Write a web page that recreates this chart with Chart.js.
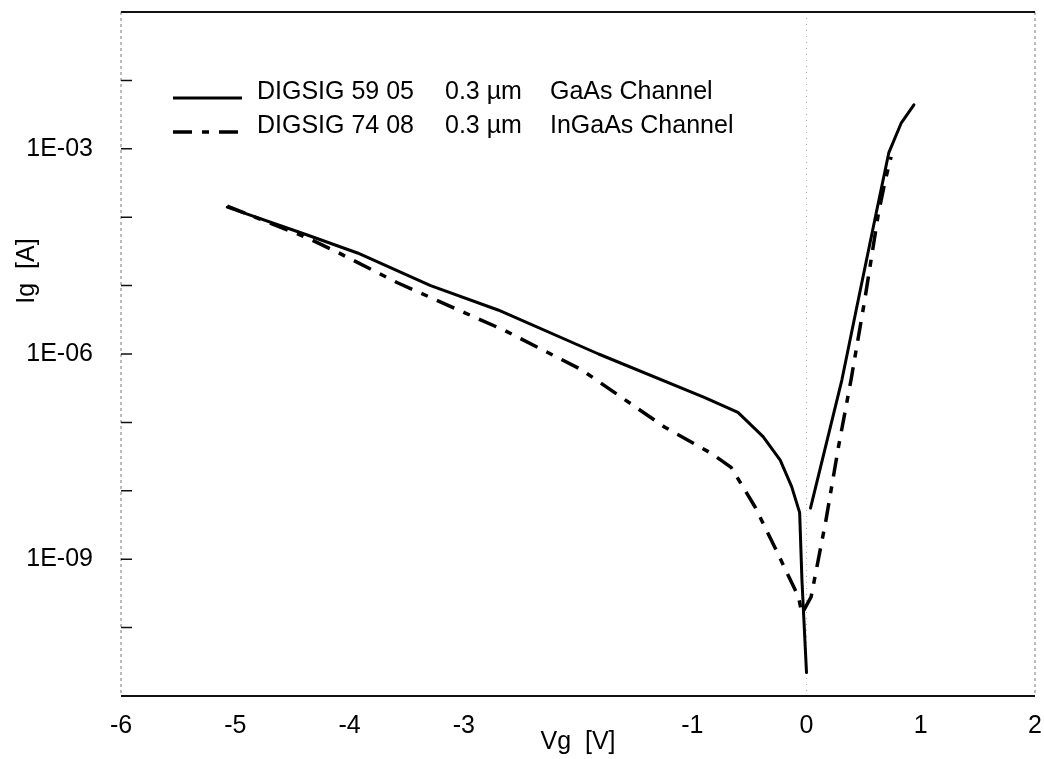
<!DOCTYPE html>
<html>
<head>
<meta charset="utf-8">
<title>Ig vs Vg</title>
<script src="https://cdn.jsdelivr.net/npm/chart.js@4.4.0/dist/chart.umd.min.js"></script>
<style>
  html, body { margin: 0; padding: 0; background: #fff; }
</style>
</head>
<body>
<canvas id="myChart" width="1044" height="759"></canvas>
<script>
// gate current vs gate voltage
const gaasVg = [-5.07, -4.37, -3.93, -3.29, -2.70, -1.82, -0.89, -0.60, -0.38, -0.23, -0.13, -0.06, -0.04, 0.0,
                0.02, 0.035, 0.31, 0.43, 0.61, 0.72, 0.83, 0.94];
const gaasIg = [1.4e-4, 5.5e-5, 3.0e-5, 1.0e-5, 4.4e-6, 1.0e-6, 2.3e-7, 1.4e-7, 6.2e-8, 2.8e-8, 1.15e-8, 4.8e-9, 5.0e-10, 2.2e-11,
                null, 5.6e-9, 4.2e-7, 4.0e-6, 1.15e-4, 8.7e-4, 2.4e-3, 4.4e-3];

const ingaasVg = [-5.07, -4.37, -4.11, -3.58, -2.99, -2.64, -1.97, -1.24, -0.83, -0.66, -0.45, -0.25, -0.07, -0.04,
                  0.04, 0.17, 0.28, 0.39, 0.51, 0.63, 0.69, 0.74];
const ingaasIg = [1.45e-4, 5.0e-5, 3.1e-5, 1.1e-5, 4.0e-6, 2.2e-6, 5.9e-7, 8.5e-8, 3.5e-8, 2.2e-8, 5.8e-9, 1.2e-9, 2.8e-10, 1.6e-10,
                  2.8e-10, 3.7e-9, 4.4e-8, 4.2e-7, 6.2e-6, 1.15e-4, 3.5e-4, 7.6e-4];

const xTickLabels = ['-6', '-5', '-4', '-3', '', '-1', '0', '1', '2'];
const yTickValues = [1e-10, 1e-9, 1e-8, 1e-7, 1e-6, 1e-5, 1e-4, 1e-3, 1e-2];
const yTickLabels = ['', '1E-09', '', '', '1E-06', '', '', '1E-03', ''];

const seriesNames = ['DIGSIG 59 05', 'DIGSIG 74 08'];
const gateLengths = ['0.3 µm', '0.3 µm'];
const channels = ['GaAs Channel', 'InGaAs Channel'];

const FONT = "'Liberation Sans', Arial, Helvetica, sans-serif";
Chart.defaults.font.family = FONT;
Chart.defaults.font.size = 25;
Chart.defaults.color = '#000';

function toPoints(xs, ys) {
  return xs.map((v, i) => ({ x: v, y: ys[i] }));
}

// frame, zero line and inward ticks on the log axis
const framePlugin = {
  id: 'frame',
  beforeDatasetsDraw(chart) {
    const { ctx, chartArea: a, scales: { x, y } } = chart;
    ctx.save();
    ctx.strokeStyle = '#777';
    ctx.lineWidth = 1;
    ctx.setLineDash([3, 3]);
    ctx.beginPath();
    ctx.moveTo(a.left, a.top); ctx.lineTo(a.left, a.bottom);
    ctx.moveTo(a.right, a.top); ctx.lineTo(a.right, a.bottom);
    ctx.stroke();

    ctx.strokeStyle = '#aaa';
    ctx.setLineDash([1, 5]);
    const x0 = x.getPixelForValue(0);
    ctx.beginPath();
    ctx.moveTo(x0, a.top); ctx.lineTo(x0, a.bottom);
    ctx.stroke();

    ctx.setLineDash([]);
    ctx.strokeStyle = '#111';
    ctx.lineWidth = 2;
    ctx.beginPath();
    ctx.moveTo(a.left, a.top); ctx.lineTo(a.right, a.top);
    ctx.moveTo(a.left, a.bottom); ctx.lineTo(a.right, a.bottom);
    ctx.stroke();

    ctx.lineWidth = 1.5;
    ctx.beginPath();
    yTickValues.forEach(v => {
      const py = y.getPixelForValue(v);
      ctx.moveTo(a.left, py); ctx.lineTo(a.left + 11, py);
    });
    ctx.stroke();
    ctx.restore();
  },
  afterDraw(chart) {
    const { ctx, chartArea: a } = chart;
    ctx.save();
    ctx.fillStyle = '#000';
    ctx.font = '25px ' + FONT;
    ctx.textBaseline = 'middle';
    chart.data.datasets.forEach((ds, i) => {
      const rowY = a.top + 80 + i * 34;
      ctx.strokeStyle = ds.borderColor;
      ctx.lineWidth = ds.borderWidth;
      ctx.setLineDash(ds.borderDash || []);
      ctx.beginPath();
      ctx.moveTo(a.left + 52, rowY + 6);
      ctx.lineTo(a.left + 121, rowY + 6);
      ctx.stroke();
      ctx.fillText(seriesNames[i], a.left + 136, rowY);
      ctx.fillText(gateLengths[i], a.left + 324, rowY);
      ctx.fillText(channels[i], a.left + 429, rowY);
    });

    // y axis title
    ctx.translate(27, 271);
    ctx.rotate(-Math.PI / 2);
    ctx.textAlign = 'center';
    ctx.fillText('Ig  [A]', 0, 0);
    ctx.restore();
  }
};

new Chart('myChart', {
  type: 'line',
  data: {
    datasets: [
      {
        label: seriesNames[0] + '   ' + gateLengths[0] + '   ' + channels[0],
        data: toPoints(gaasVg, gaasIg),
        borderColor: '#000',
        borderWidth: 3,
        pointRadius: 0,
        tension: 0,
        spanGaps: false,
        borderJoinStyle: 'round',
        borderCapStyle: 'round'
      },
      {
        label: seriesNames[1] + '   ' + gateLengths[1] + '   ' + channels[1],
        data: toPoints(ingaasVg, ingaasIg),
        borderColor: '#000',
        borderWidth: 3.5,
        borderDash: [19, 10, 7, 10],
        pointRadius: 0,
        tension: 0,
        borderJoinStyle: 'round'
      }
    ]
  },
  options: {
    responsive: false,
    animation: false,
    layout: { padding: { left: 0, right: 9, top: 12, bottom: 0 } },
    plugins: {
      legend: { display: false },
      tooltip: { enabled: false }
    },
    scales: {
      x: {
        type: 'linear',
        min: -6,
        max: 2,
        grid: { display: false },
        border: { display: false },
        ticks: {
          stepSize: 1,
          padding: 7,
          autoSkip: false,
          maxRotation: 0,
          callback: (value, index) => xTickLabels[index]
        },
        title: {
          display: true,
          text: 'Vg  [V]',
          padding: { top: 0, bottom: 2 }
        },
        afterFit: (scale) => {
          scale.height = 63;
          scale.paddingLeft = 0;
          scale.paddingRight = 0;
        }
      },
      y: {
        type: 'logarithmic',
        min: 1e-11,
        max: 1e-1,
        grid: { display: false },
        border: { display: false },
        ticks: {
          padding: 20,
          autoSkip: false,
          callback: (value, index) => yTickLabels[index]
        },
        afterBuildTicks: (scale) => {
          scale.ticks = yTickValues.map(v => ({ value: v }));
        },
        afterFit: (scale) => {
          scale.width = 121;
          scale.paddingTop = 0;
          scale.paddingBottom = 0;
        }
      }
    }
  },
  plugins: [framePlugin]
});
</script>
</body>
</html>
